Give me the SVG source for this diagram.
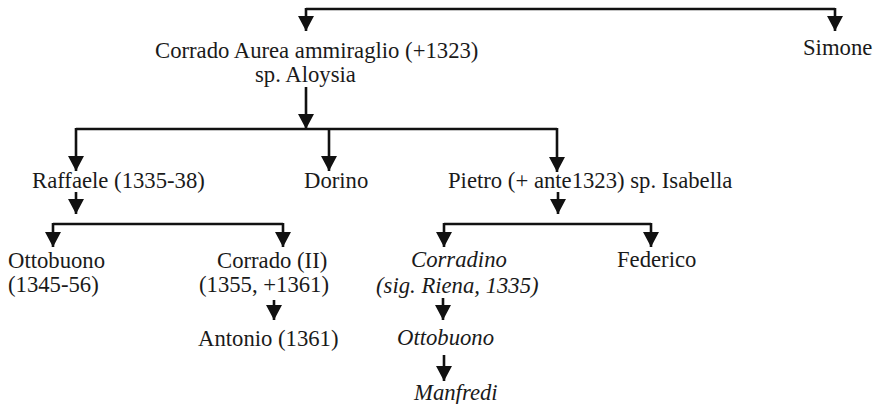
<svg xmlns="http://www.w3.org/2000/svg" width="877" height="404" viewBox="0 0 877 404">
<style>
text{font-family:"Liberation Serif","Times New Roman",serif;font-size:22.7px;fill:#1a1a1a}
.it{font-style:italic}
.c path{fill:none;stroke:#111;stroke-width:2.6}
.a{marker-end:url(#ah)}
</style>
<defs>
<marker id="ah" markerUnits="userSpaceOnUse" markerWidth="16" markerHeight="16" viewBox="0 -8 15 16" refX="15" refY="0" orient="auto">
<path d="M0,-8 L15,0 L0,8 z" fill="#111"/>
</marker>
</defs>
<rect width="877" height="404" fill="#fff"/>
<g class="c" id="connectors">
<path d="M306,9 H835"/>
<path class="a" d="M306,8 V31"/>
<path class="a" d="M835,8 V31"/>
<path class="a" d="M306,87 V129"/>
<path d="M76,129 H557"/>
<path class="a" d="M76,128 V171"/>
<path class="a" d="M329,128 V171"/>
<path class="a" d="M557,128 V172"/>
<path class="a" d="M76,192 V214"/>
<path d="M53,224 H283"/>
<path class="a" d="M53,223 V247"/>
<path class="a" d="M283,223 V247"/>
<path class="a" d="M558,192 V214"/>
<path d="M444,224 H651"/>
<path class="a" d="M444,223 V247"/>
<path class="a" d="M651,223 V247"/>
<path class="a" d="M274,300 V320"/>
<path class="a" d="M443,298 V320"/>
<path class="a" d="M444,355 V381"/>
</g>
<g id="corrado"><text x="155" y="58">Corrado Aurea ammiraglio (+1323)</text><text x="255" y="82">sp. Aloysia</text></g>
<g id="simone"><text x="803" y="55">Simone</text></g>
<g id="raffaele"><text x="32" y="188">Raffaele (1335-38)</text></g>
<g id="dorino"><text x="304" y="188">Dorino</text></g>
<g id="pietro"><text x="448" y="188">Pietro (+ ante1323) sp. Isabella</text></g>
<g id="ottobuono1"><text x="8" y="268">Ottobuono</text><text x="8" y="292">(1345-56)</text></g>
<g id="corrado2"><text x="217" y="268">Corrado (II)</text><text x="199" y="292">(1355, +1361)</text></g>
<g id="antonio"><text x="198" y="346">Antonio (1361)</text></g>
<g id="corradino"><text class="it" x="411" y="267">Corradino</text><text class="it" x="376" y="293">(sig. Riena, 1335)</text></g>
<g id="federico"><text x="617" y="267">Federico</text></g>
<g id="ottobuono2"><text class="it" x="397" y="345">Ottobuono</text></g>
<g id="manfredi"><text class="it" x="414" y="400">Manfredi</text></g>
</svg>
